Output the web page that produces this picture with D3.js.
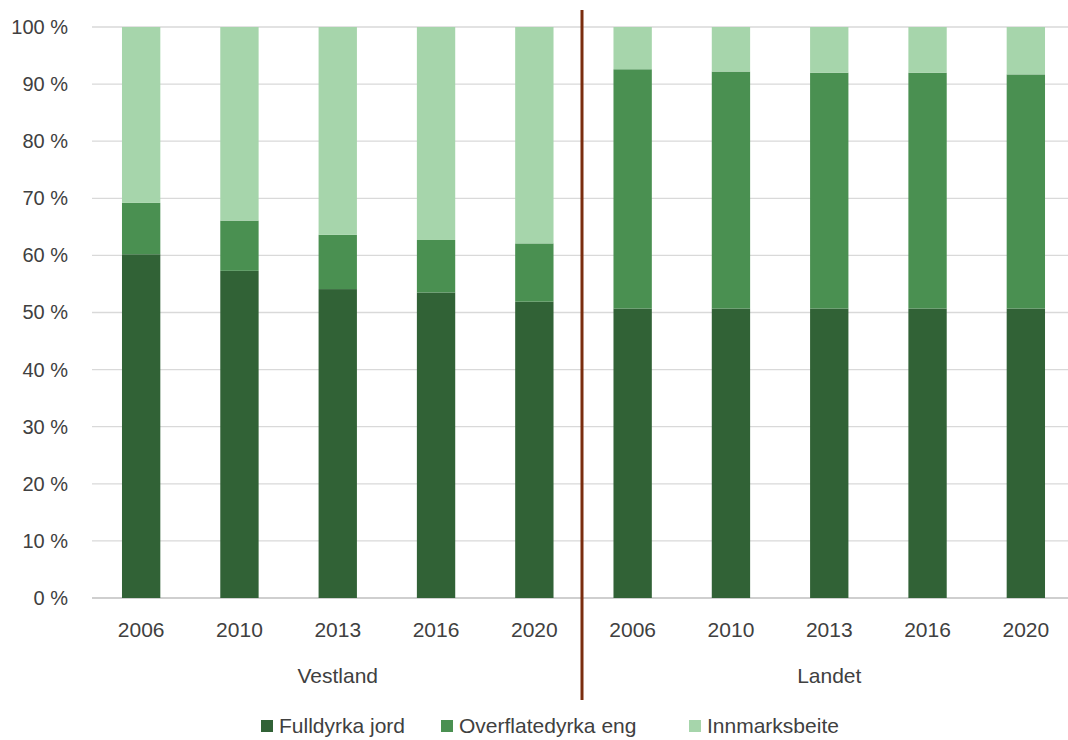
<!DOCTYPE html>
<html><head><meta charset="utf-8">
<script src="https://cdn.jsdelivr.net/npm/d3@7"></script>
<style>body{margin:0;background:#fff}svg{display:block}text{font-family:"Liberation Sans",Arial,sans-serif;fill:#404040}</style>
</head><body><svg id="c" width="1068" height="740"></svg>
<script>
const groups = ["Vestland","Landet"];
const years = ["2006","2010","2013","2016","2020"];
const seriesNames = ["Fulldyrka jord","Overflatedyrka eng","Innmarksbeite"];
const colors = ["#316236","#4a9051","#a6d5ab"];
const fulldyrka = [60.2,57.3,54.1,53.5,51.9, 50.7,50.7,50.7,50.7,50.7];
const overflate = [9.0,8.8,9.5,9.2,10.2, 41.9,41.5,41.3,41.3,41.0];
const innmark   = [30.8,33.9,36.4,37.3,37.9, 7.4,7.8,8.0,8.0,8.3];
const yTicks = [0,10,20,30,40,50,60,70,80,90,100];

const cats = [];
groups.forEach(g=>years.forEach(y=>cats.push(g+"|"+y)));
const rows = cats.map((c,i)=>({cat:c, s0:fulldyrka[i], s1:overflate[i], s2:innmark[i]}));
const stack = d3.stack().keys(["s0","s1","s2"])(rows);

const svg = d3.select("#c");
const L=92, R=1075, T=27, B=598;
const x = d3.scaleBand().domain(cats).range([L,R]).paddingInner(0.61).paddingOuter(0.305);
const y = d3.scaleLinear().domain([0,100]).range([B,T]);

// gridlines
svg.append("g").selectAll("line").data(yTicks).join("line")
  .attr("x1",L).attr("x2",R).attr("y1",d=>y(d)).attr("y2",d=>y(d))
  .attr("stroke",d=>d===0?"#bfbfbf":"#d9d9d9").attr("stroke-width",d=>d===0?1.5:1.3);

// y axis labels
const ya = svg.append("g").attr("transform",`translate(${L},0)`)
  .call(d3.axisLeft(y).tickValues(yTicks).tickFormat(d=>d+" %").tickSize(0).tickPadding(24));
ya.select(".domain").remove();
ya.selectAll("text").attr("font-size",20).style("font-family",'"Liberation Sans",Arial,sans-serif').attr("fill","#404040");

// bars
svg.append("g").selectAll("g").data(stack).join("g").attr("fill",(d,i)=>colors[i])
  .selectAll("rect").data(d=>d).join("rect")
  .attr("x",d=>x(d.data.cat)).attr("width",x.bandwidth())
  .attr("y",d=>y(d[1])).attr("height",d=>y(d[0])-y(d[1]));

// x axis year labels
const xa = svg.append("g").attr("transform",`translate(0,${B})`)
  .call(d3.axisBottom(x).tickFormat(d=>d.split("|")[1]).tickSize(0).tickPadding(24));
xa.select(".domain").remove();
xa.selectAll("text").attr("font-size",21).style("font-family",'"Liberation Sans",Arial,sans-serif').attr("fill","#404040");

// group labels
groups.forEach((g,gi)=>{
  const a = x(g+"|"+years[0]), b = x(g+"|"+years[years.length-1])+x.bandwidth();
  svg.append("text").attr("x",(a+b)/2).attr("y",683).attr("text-anchor","middle")
    .attr("font-size",21).text(g);
});

// divider
const divX = (x(groups[0]+"|"+years[4])+x.bandwidth()+x(groups[1]+"|"+years[0]))/2;
svg.append("line").attr("x1",divX-1.5).attr("x2",divX-1.5).attr("y1",10).attr("y2",700)
  .attr("stroke","#7a2d0e").attr("stroke-width",3);

// legend
const legX = [261, 441, 689];
const lg = svg.append("g");
seriesNames.forEach((n,i)=>{
  lg.append("rect").attr("x",legX[i]).attr("y",720).attr("width",12).attr("height",12).attr("fill",colors[i]);
  lg.append("text").attr("x",legX[i]+18).attr("y",733).attr("font-size",21).text(n);
});
</script></body></html>
